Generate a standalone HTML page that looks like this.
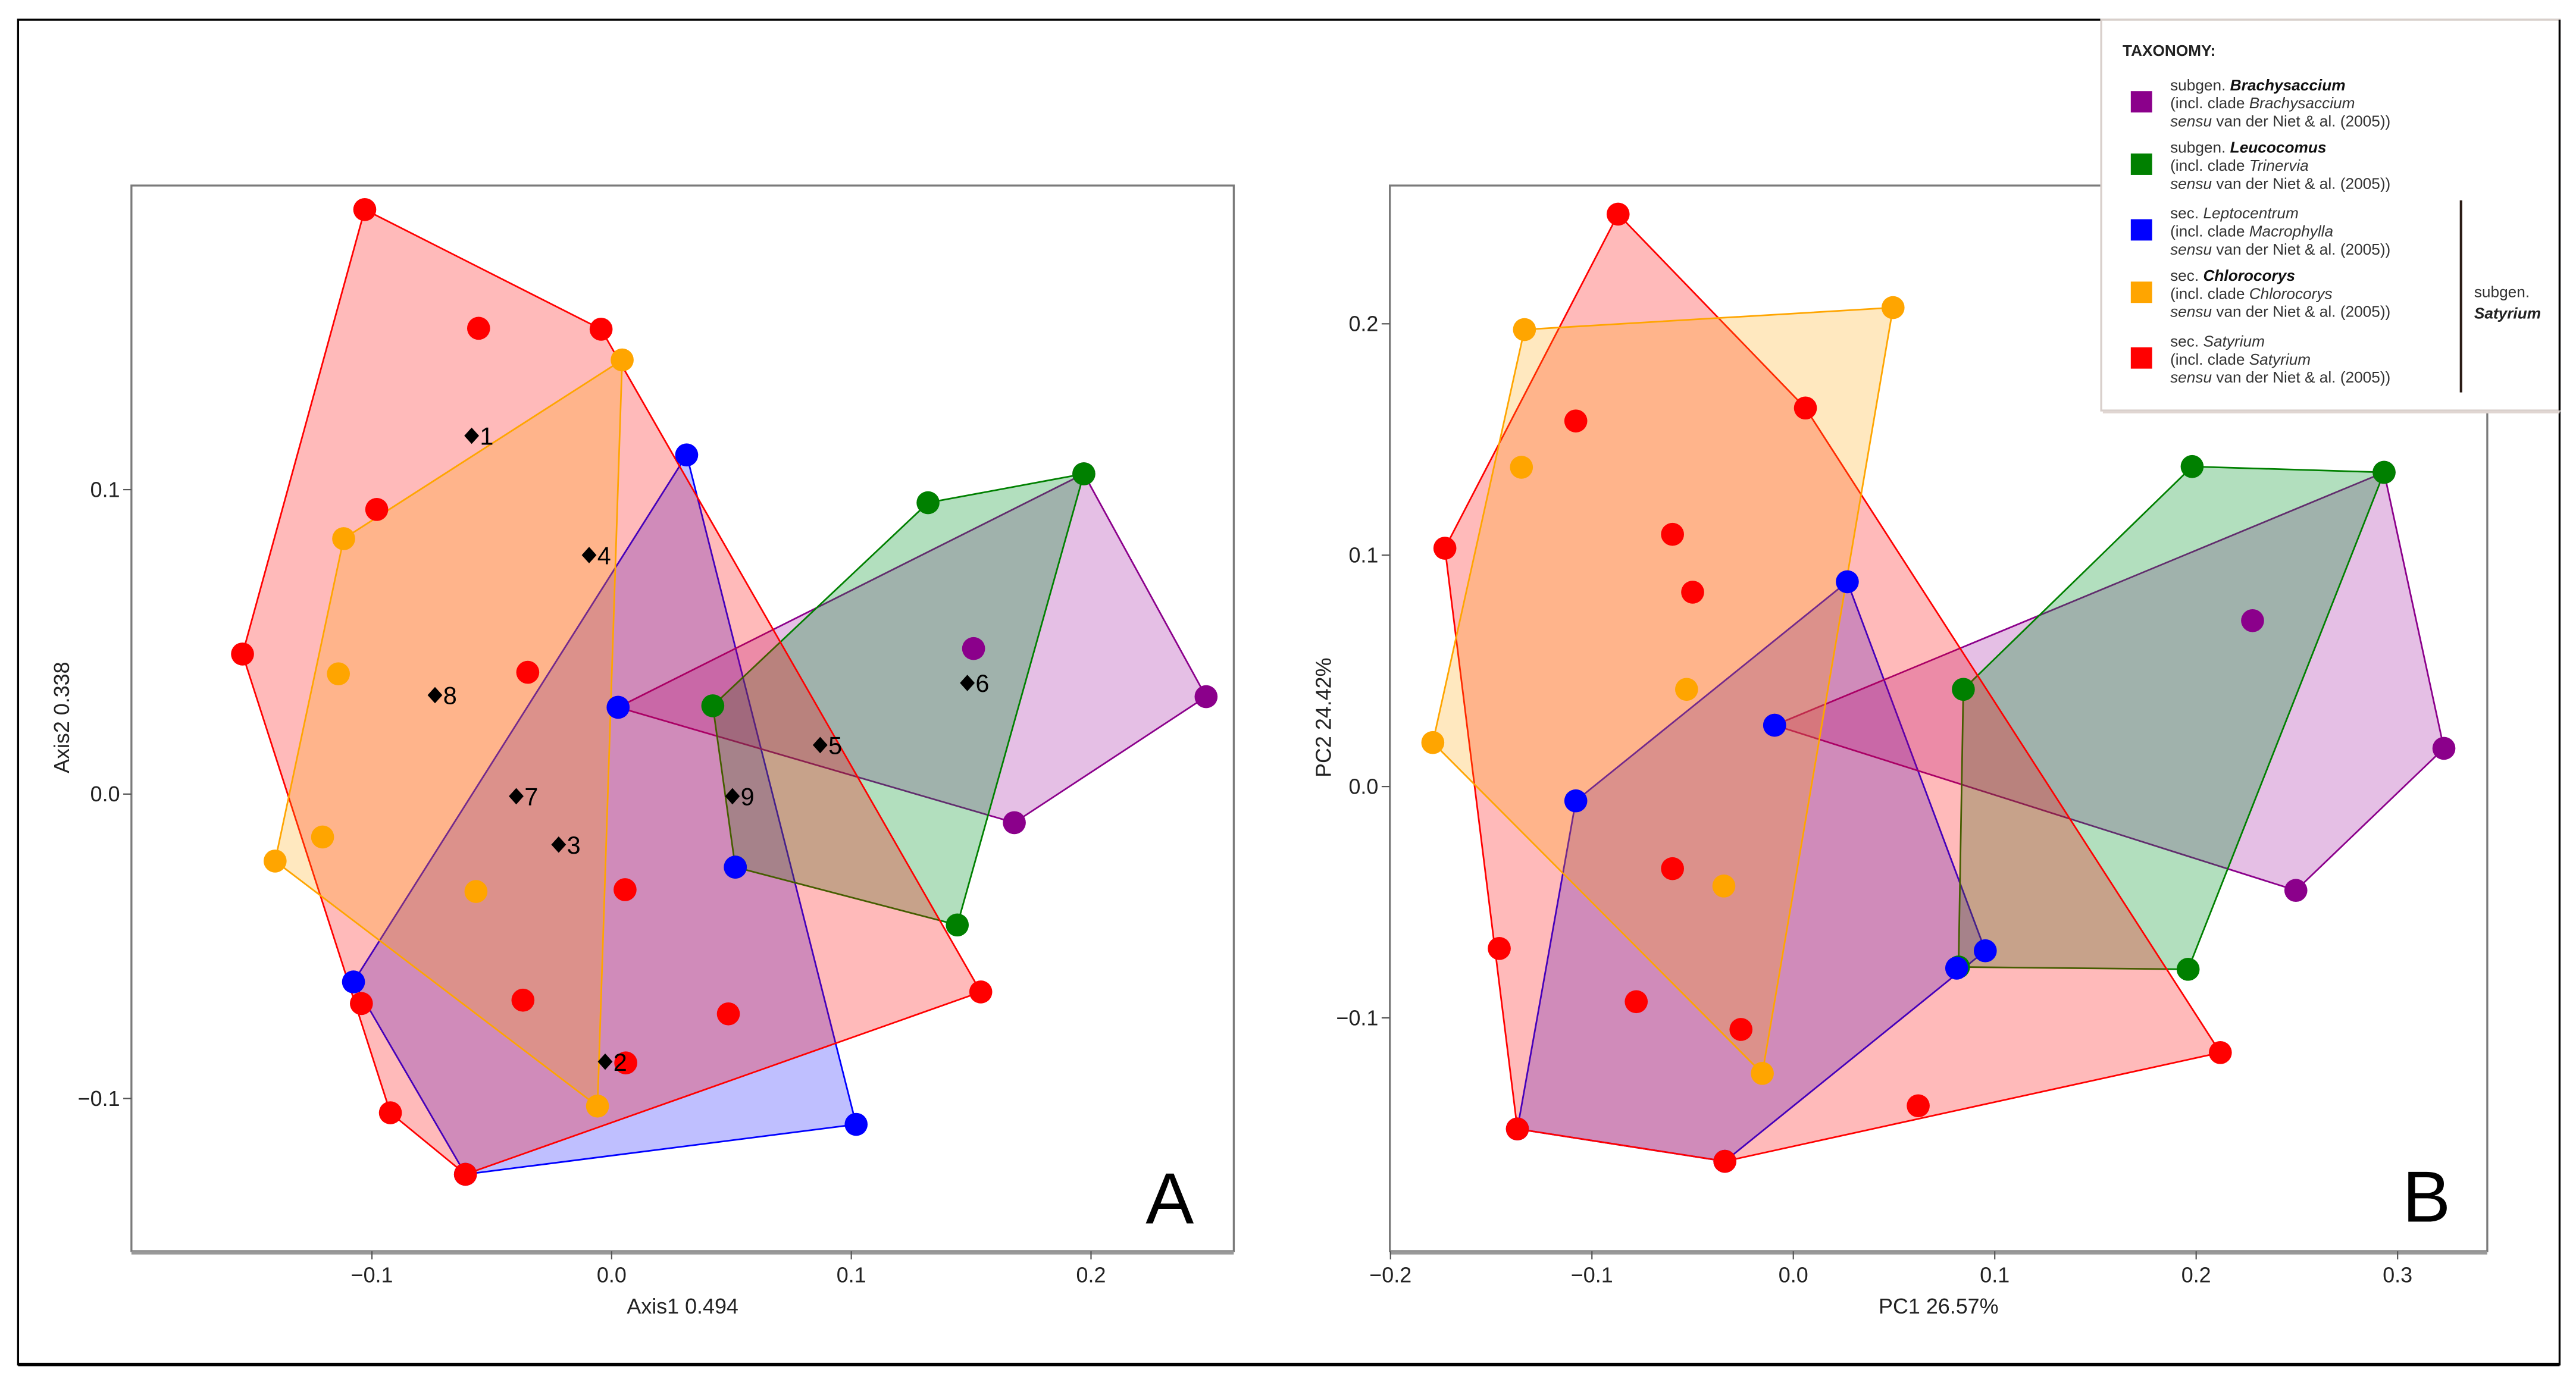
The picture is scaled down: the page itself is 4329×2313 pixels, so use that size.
<!DOCTYPE html>
<html><head><meta charset="utf-8"><style>
html,body{margin:0;padding:0;background:#fff;width:4329px;height:2313px;overflow:hidden}
svg{display:block}
text{font-family:"Liberation Sans",sans-serif}
</style></head><body>
<svg id="fig" width="4329" height="2313" viewBox="0 0 1568 838" preserveAspectRatio="none" xmlns="http://www.w3.org/2000/svg">
<rect x="11" y="12" width="1547" height="819" fill="#fff" stroke="#000" stroke-width="1.2"/>
<line x1="11" y1="831" x2="1558" y2="831" stroke="#000" stroke-width="2"/>
<g id="panelA"></g>
<g id="panelB"></g>
<g id="legend"></g>
</svg>
<script>
// ---------- Panel A data (Axis1, Axis2) ----------
const aRed=[[-0.103,0.192],[-0.0555,0.153],[-0.0044,0.1527],[-0.098,0.0935],[-0.154,0.046],[-0.035,0.040],[0.0056,-0.0314],[-0.037,-0.0677],[0.0487,-0.0722],[0.0059,-0.0883],[0.154,-0.065],[-0.1044,-0.0688],[-0.0923,-0.1047],[-0.061,-0.1249]];
const aOrange=[[0.0044,0.1426],[-0.1118,0.0839],[-0.114,0.0395],[-0.1206,-0.0141],[-0.1404,-0.022],[-0.0566,-0.032],[-0.0059,-0.1025]];
const aBlue=[[-0.061,-0.1249],[0.0313,0.1114],[0.0027,0.0285],[0.0516,-0.024],[-0.1077,-0.0617],[0.102,-0.1085]];
const aGreen=[[0.0516,-0.024],[0.132,0.0957],[0.197,0.1052],[0.0422,0.029],[0.1442,-0.043]];
const aPurple=[[0.0027,0.0285],[0.197,0.1052],[0.151,0.0478],[0.248,0.032],[0.168,-0.0094]];
const aMarkerLabels=["1","4","8","7","3","2","5","9","6"];
const aMarkerX=[-0.0584,-0.0094,-0.0737,-0.0398,-0.0221,-0.0027,0.087,0.0504,0.1484];
const aMarkerY=[0.1177,0.0785,0.0325,-0.0007,-0.0166,-0.0879,0.0161,-0.0007,0.0365];
const aXTicks=[-0.1,0.0,0.1,0.2];
const aYTicks=[-0.1,0.0,0.1];
// ---------- Panel B data (PC1, PC2) ----------
const bRed=[[-0.087,0.2474],[0.006,0.1636],[-0.108,0.158],[-0.173,0.103],[-0.060,0.109],[-0.050,0.084],[-0.060,-0.0355],[-0.146,-0.070],[-0.078,-0.093],[-0.026,-0.105],[-0.137,-0.148],[-0.034,-0.162],[0.062,-0.138],[0.212,-0.115]];
const bOrange=[[-0.1335,0.1975],[0.0495,0.207],[-0.135,0.138],[-0.053,0.042],[-0.179,0.019],[-0.0345,-0.043],[-0.0154,-0.124]];
const bBlue=[[-0.137,-0.148],[-0.034,-0.162],[0.0268,0.0885],[-0.0093,0.0265],[-0.108,-0.0062],[0.0953,-0.071],[0.0811,-0.0785]];
const bGreen=[[0.082,-0.078],[0.198,0.1383],[0.2933,0.1358],[0.0844,0.042],[0.196,-0.079]];
const bPurple=[[-0.0093,0.0265],[0.2933,0.1358],[0.228,0.0717],[0.323,0.0165],[0.2495,-0.0449]];
const bXTicks=[-0.2,-0.1,0.0,0.1,0.2,0.3];
const bYTicks=[-0.1,0.0,0.1,0.2];

const NS="http://www.w3.org/2000/svg";
function mk(tag,attrs,parent){const e=document.createElementNS(NS,tag);for(const k in attrs)e.setAttribute(k,attrs[k]);parent.appendChild(e);return e;}
function hull(pts){const p=pts.slice().sort((a,b)=>a[0]-b[0]||a[1]-b[1]);const cr=(o,a,b)=>(a[0]-o[0])*(b[1]-o[1])-(a[1]-o[1])*(b[0]-o[0]);const lo=[],up=[];for(const q of p){while(lo.length>=2&&cr(lo[lo.length-2],lo[lo.length-1],q)<=0)lo.pop();lo.push(q);}for(let i=p.length-1;i>=0;i--){const q=p[i];while(up.length>=2&&cr(up[up.length-2],up[up.length-1],q)<=0)up.pop();up.push(q);}up.pop();lo.pop();return lo.concat(up);}
const COL={red:["#ff0000","rgba(255,0,0,0.27)"],orange:["#ffa500","rgba(255,165,0,0.25)"],blue:["#0000ff","rgba(0,0,255,0.25)"],green:["#008000","rgba(0,150,40,0.3)"],purple:["#8b008b","rgba(150,0,150,0.25)"]};

function panel(g,box,sx,sy,xt,yt,groups,xTitle,yTitle,letter,yTitleX,tag){
  mk('rect',{x:box[0],y:box[1],width:box[2]-box[0],height:box[3]-box[1],fill:'none',stroke:'#7a7a7a','stroke-width':1.2},g);
  mk('line',{x1:box[0],y1:box[3]+1,x2:box[2],y2:box[3]+1,stroke:'#999','stroke-width':2},g);
  for(const t of xt){const x=sx(t);
    const tk=mk('line',{x1:x,y1:box[3],x2:x,y2:box[3]+5,stroke:'#555','stroke-width':0.8},g);
    
    
    const tx=mk('text',{x:x,y:box[3]+19,'font-size':13,'text-anchor':'middle',fill:'#222'},g);tx.textContent=t.toFixed(1).replace('-','−');
    
    }
  for(const t of yt){const y=sy(t);
    mk('line',{x1:box[0]-5,y1:y,x2:box[0],y2:y,stroke:'#555','stroke-width':0.8},g);
    const tx=mk('text',{x:box[0]-7,y:y+4.5,'font-size':13,'text-anchor':'end',fill:'#222'},g);tx.textContent=t.toFixed(1).replace('-','−');
    
    }
  const xl=mk('text',{x:(box[0]+box[2])/2,y:box[3]+38,'font-size':13,'text-anchor':'middle',fill:'#222'},g);xl.textContent=xTitle;
  
  
  const cy=437;
  const yl=mk('text',{x:yTitleX,y:cy,'font-size':13,'text-anchor':'middle',fill:'#222',transform:`rotate(-90 ${yTitleX} ${cy})`},g);yl.textContent=yTitle;
  
  
  const fillOrder=['blue','purple','green','red','orange'];
  for(const name of fillOrder){const pts=groups.find(q=>q[0]===name)[1];
    const h=hull(pts).map(p=>sx(p[0])+','+sy(p[1])).join(' ');
    const pg=mk('polygon',{points:h,fill:COL[name][1],stroke:COL[name][0],'stroke-width':1},g);
    
    }
  const order=['purple','green','blue','orange','red'];
  for(const n of order){const pts=groups.find(q=>q[0]===n)[1];
    for(const p of pts){const c=mk('circle',{cx:sx(p[0]),cy:sy(p[1]),r:7,fill:COL[n][0]},g);
      
      }}
  const L=mk('text',{x:letter[0],y:letter[1],'font-size':44,'text-anchor':'middle',fill:'#000'},g);L.textContent=tag==='a'?'A':'B';
  
  
}
const ax=v=>372.3+v*1459, ay=v=>483.6-v*1854;
const bx=v=>1091.6+v*1226, by=v=>479-v*1409;
const gA=document.getElementById('panelA'), gB=document.getElementById('panelB');
panel(gA,[80,113,751,762],ax,ay,aXTicks,aYTicks,[['red',aRed],['orange',aOrange],['blue',aBlue],['green',aGreen],['purple',aPurple]],'Axis1 0.494','Axis2 0.338',[712,745],42,'a');
for(let i=0;i<aMarkerLabels.length;i++){const x=ax(aMarkerX[i]),y=ay(aMarkerY[i]);
  const d=mk('polygon',{points:`${x},${y-5} ${x+4.5},${y} ${x},${y+5} ${x-4.5},${y}`,fill:'#000'},gA);
  
  
  const t=mk('text',{x:x+5,y:y+5.5,'font-size':15,fill:'#000'},gA);t.textContent=aMarkerLabels[i];
  
  }
panel(gB,[846,113,1514,762],bx,by,bXTicks,bYTicks,[['red',bRed],['orange',bOrange],['blue',bBlue],['green',bGreen],['purple',bPurple]],'PC1 26.57%','PC2 24.42%',[1477,744],810,'b');

// ---------- Legend ----------
const lg=document.getElementById('legend');
mk('rect',{x:1279,y:12,width:279,height:238,fill:'#fff',stroke:'#d8cfcb','stroke-width':1.2},lg);
mk('line',{x1:1280,y1:251,x2:1558,y2:251,stroke:'#e0d6d2','stroke-width':1.5},lg);
mk('line',{x1:1558,y1:12,x2:1558,y2:250,stroke:'#000','stroke-width':1.2},lg);
const tt=mk('text',{x:1292,y:34,'font-size':9.5,'font-weight':'bold',fill:'#222'},lg);tt.textContent='TAXONOMY:';


const entries=[
 ['purple','subgen. ','Brachysaccium',true,'Brachysaccium'],
 ['green','subgen. ','Leucocomus',true,'Trinervia'],
 ['blue','sec. ','Leptocentrum',false,'Macrophylla'],
 ['orange','sec. ','Chlorocorys',true,'Chlorocorys'],
 ['red','sec. ','Satyrium',false,'Satyrium']];
const cy0=[62,100,140,178,218];
entries.forEach((e,i)=>{const c=cy0[i];
  const sq=mk('rect',{x:1297,y:c-6.5,width:13,height:13,fill:COL[e[0]][0]},lg);
  
  
  const t1=mk('text',{x:1321,y:c-7,'font-size':9.5,fill:'#333'},lg);
  
  
  const s1=mk('tspan',{},t1);s1.textContent=e[1];
  const s2=mk('tspan',{'font-style':'italic','font-weight':e[3]?'bold':'normal',fill:e[3]?'#111':'#333'},t1);s2.textContent=e[2];
  const t2=mk('text',{x:1321,y:c+4,'font-size':9.5,fill:'#333'},lg);
  const s3=mk('tspan',{},t2);s3.textContent='(incl. clade ';
  const s4=mk('tspan',{'font-style':'italic'},t2);s4.textContent=e[4];
  const t3=mk('text',{x:1321,y:c+15,'font-size':9.5,fill:'#333'},lg);
  const s5=mk('tspan',{'font-style':'italic'},t3);s5.textContent='sensu';
  const s6=mk('tspan',{},t3);s6.textContent=' van der Niet & al. (2005))';
});
mk('line',{x1:1498,y1:122,x2:1498,y2:239,stroke:'#2a1a14','stroke-width':1.5},lg);
const sg1=mk('text',{x:1506,y:181,'font-size':9.5,fill:'#333'},lg);sg1.textContent='subgen.';


const sg2=mk('text',{x:1506,y:194,'font-size':9.5,'font-style':'italic','font-weight':'bold',fill:'#222'},lg);sg2.textContent='Satyrium';


</script>
</body></html>
